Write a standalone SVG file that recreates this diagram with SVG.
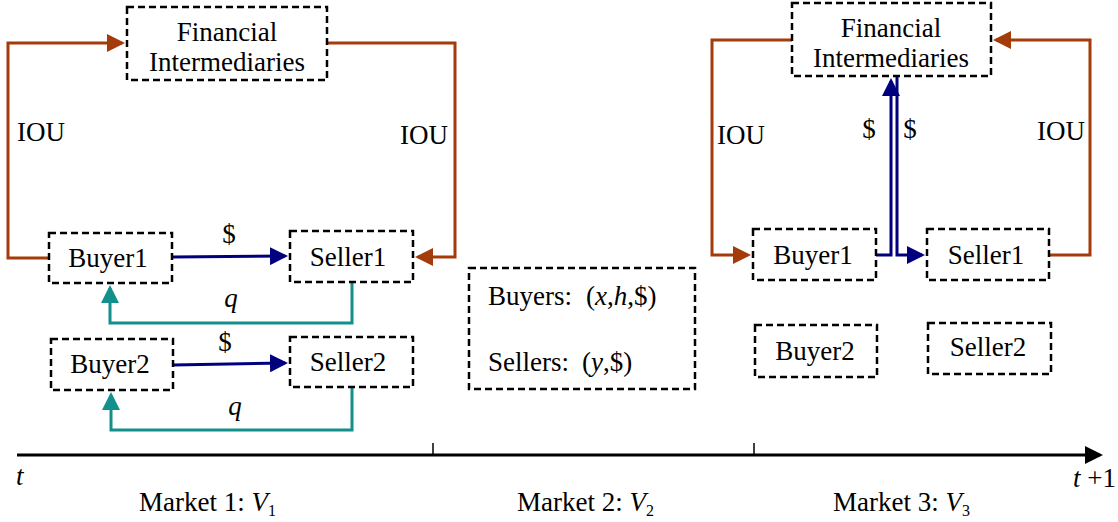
<svg xmlns="http://www.w3.org/2000/svg" width="1118" height="522" viewBox="0 0 1118 522">
<style>
.box{fill:#fff;stroke:#000;stroke-width:2.5;stroke-dasharray:7 4}
.t{font-family:"Liberation Serif","Times New Roman",serif;font-size:27px;fill:#000}
.c{text-anchor:middle}
.i{font-style:italic}
.or{fill:none;stroke:#A33B0B;stroke-width:3}
.bl{fill:none;stroke:#00007F;stroke-width:3}
.te{fill:none;stroke:#14908C;stroke-width:3}
</style>
<defs>
<marker id="ao" markerWidth="6" markerHeight="6" refX="5" refY="3" orient="auto" markerUnits="strokeWidth"><path d="M0,0 L6,3 L0,6 Z" fill="#A33B0B"/></marker>
<marker id="ab" markerWidth="6" markerHeight="6" refX="5" refY="3" orient="auto" markerUnits="strokeWidth"><path d="M0,0 L6,3 L0,6 Z" fill="#00007F"/></marker>
<marker id="at" markerWidth="6" markerHeight="6" refX="5" refY="3" orient="auto" markerUnits="strokeWidth"><path d="M0,0 L6,3 L0,6 Z" fill="#14908C"/></marker>
<marker id="ak" markerWidth="6" markerHeight="6" refX="5" refY="3" orient="auto" markerUnits="strokeWidth"><path d="M0,0 L6,3 L0,6 Z" fill="#000"/></marker>
</defs>

<g id="connectors">
  <polyline class="or" points="49,258 8,258 8,43 122,43" marker-end="url(#ao)"/>
  <polyline class="or" points="327,43 455,43 455,257 418,257" marker-end="url(#ao)"/>
  <line class="bl" x1="172" y1="257" x2="285" y2="256" marker-end="url(#ab)"/>
  <polyline class="te" points="352,282 352,323 110,323 110,288" marker-end="url(#at)"/>
  <line class="bl" x1="173" y1="365" x2="285" y2="363" marker-end="url(#ab)"/>
  <polyline class="te" points="352,387 352,430 111,430 111,395" marker-end="url(#at)"/>
  <polyline class="or" points="792,40 712,40 712,255 748,255" marker-end="url(#ao)"/>
  <polyline class="or" points="1049,255 1090,255 1090,40 996,40" marker-end="url(#ao)"/>
  <polyline class="bl" points="876,255 891,255 891,81" marker-end="url(#ab)"/>
  <polyline class="bl" points="897,76 897,255 922,255" marker-end="url(#ab)"/>
  <line x1="17" y1="455" x2="1100" y2="455" stroke="#000" stroke-width="3" marker-end="url(#ak)"/>
  <line x1="433" y1="443" x2="433" y2="455" stroke="#000" stroke-width="1.5"/>
  <line x1="754" y1="443" x2="754" y2="455" stroke="#000" stroke-width="1.5"/>
</g>

<g id="fi1">
  <rect class="box" x="127" y="7" width="200" height="73"/>
  <text class="t c" x="227" y="41">Financial</text>
  <text class="t c" x="227" y="71">Intermediaries</text>
</g>
<g id="buyer1">
  <rect class="box" x="49" y="233" width="123" height="50"/>
  <text class="t c" x="108" y="267">Buyer1</text>
</g>
<g id="seller1">
  <rect class="box" x="290" y="231" width="123" height="51"/>
  <text class="t c" x="348" y="266">Seller1</text>
</g>
<g id="buyer2">
  <rect class="box" x="51" y="339" width="122" height="51"/>
  <text class="t c" x="110" y="373">Buyer2</text>
</g>
<g id="seller2">
  <rect class="box" x="290" y="337" width="123" height="50"/>
  <text class="t c" x="348" y="371">Seller2</text>
</g>

<g id="market2">
  <rect class="box" x="469" y="268" width="226" height="121"/>
  <text class="t" x="488" y="305">Buyers:<tspan x="586">(</tspan><tspan class="i">x</tspan>,<tspan class="i">h</tspan>,$)</text>
  <text class="t" x="488" y="371">Sellers:<tspan x="582">(</tspan><tspan class="i">y</tspan>,$)</text>
</g>

<g id="fi3">
  <rect class="box" x="792" y="3" width="199" height="73"/>
  <text class="t c" x="891" y="37">Financial</text>
  <text class="t c" x="891" y="67">Intermediaries</text>
</g>
<g id="buyer1b">
  <rect class="box" x="753" y="229" width="123" height="51"/>
  <text class="t c" x="813" y="264">Buyer1</text>
</g>
<g id="seller1b">
  <rect class="box" x="927" y="229" width="122" height="51"/>
  <text class="t c" x="986" y="264">Seller1</text>
</g>
<g id="buyer2b">
  <rect class="box" x="755" y="325" width="122" height="52"/>
  <text class="t c" x="815" y="360">Buyer2</text>
</g>
<g id="seller2b">
  <rect class="box" x="928" y="323" width="123" height="51"/>
  <text class="t c" x="988" y="356">Seller2</text>
</g>

<g id="labels">
  <text class="t" x="17" y="141">IOU</text>
  <text class="t" x="400" y="144">IOU</text>
  <text class="t c" x="229" y="243">$</text>
  <text class="t c i" x="231" y="307">q</text>
  <text class="t c" x="225" y="351">$</text>
  <text class="t c i" x="235" y="415">q</text>
  <text class="t" x="717" y="144">IOU</text>
  <text class="t" x="1037" y="140">IOU</text>
  <text class="t c" x="869" y="138">$</text>
  <text class="t c" x="910" y="138">$</text>
  <text class="t i" x="16" y="485">t</text>
  <text class="t" x="1073" y="487"><tspan class="i">t</tspan> +1</text>
  <text class="t" x="139" y="511">Market 1: <tspan class="i">V</tspan><tspan font-size="16" dy="5">1</tspan></text>
  <text class="t" x="517" y="511">Market 2: <tspan class="i">V</tspan><tspan font-size="16" dy="5">2</tspan></text>
  <text class="t" x="833" y="511">Market 3: <tspan class="i">V</tspan><tspan font-size="16" dy="5">3</tspan></text>
</g>
</svg>
